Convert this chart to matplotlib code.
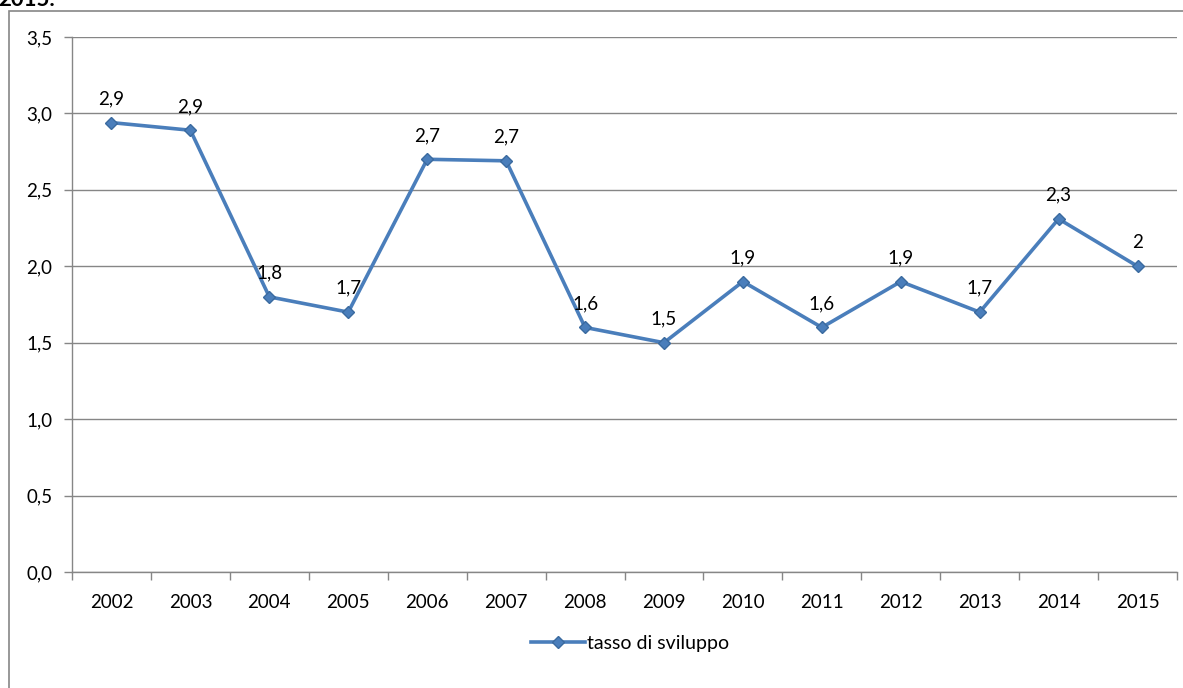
import matplotlib
matplotlib.use("Agg")
import matplotlib.pyplot as plt
from matplotlib.patches import Rectangle
from matplotlib.ticker import FixedLocator, FuncFormatter

years = ["2002", "2003", "2004", "2005", "2006", "2007", "2008",
         "2009", "2010", "2011", "2012", "2013", "2014", "2015"]
tasso = [2.94, 2.89, 1.80, 1.70, 2.70, 2.69, 1.60,
         1.50, 1.90, 1.60, 1.90, 1.70, 2.31, 2.00]
labels = ["2,9", "2,9", "1,8", "1,7", "2,7", "2,7", "1,6",
          "1,5", "1,9", "1,6", "1,9", "1,7", "2,3", "2"]
y_ticks = [0.0, 0.5, 1.0, 1.5, 2.0, 2.5, 3.0, 3.5]

plt.rcParams['font.family'] = ['Lato', 'DejaVu Sans']
blue = '#4A7EBB'
grey = '#868686'
fs = 13.5

W, H = 1183, 688
fig = plt.figure(figsize=(W / 100, H / 100), dpi=100)
ax = fig.add_axes([72 / W, 1 - 572 / H, (1177 - 72) / W, (572 - 37) / H])

x = list(range(len(years)))
ax.plot(x, tasso, color=blue, lw=2.6, marker='D', ms=6,
        markerfacecolor=blue, markeredgecolor='#3A6A9F', label='tasso di sviluppo', zorder=3)
for xi, v, lab in zip(x, tasso, labels):
    ax.annotate(lab, (xi, v), xytext=(0, 11), textcoords='offset points',
                ha='center', va='bottom', fontsize=fs)

ax.set_xlim(-0.5, len(years) - 0.5)
ax.set_ylim(0, 3.5)
ax.set_yticks(y_ticks)
ax.yaxis.set_major_formatter(FuncFormatter(lambda v, p: f"{v:.1f}".replace('.', ',')))
ax.yaxis.grid(True, color=grey, lw=1)
ax.set_axisbelow(True)

ax.set_xticks(x)
ax.set_xticklabels(years)
ax.xaxis.set_minor_locator(FixedLocator([i - 0.5 for i in range(len(years) + 1)]))
ax.tick_params(axis='x', which='major', length=0, pad=16, labelsize=fs)
ax.tick_params(axis='x', which='minor', length=6, color=grey, width=1)
ax.tick_params(axis='y', length=6, color=grey, width=1, pad=8, labelsize=fs)

for s in ['top', 'right']:
    ax.spines[s].set_visible(False)
for s in ['left', 'bottom']:
    ax.spines[s].set_color(grey)
    ax.spines[s].set_linewidth(1)

leg = fig.legend(loc='center', bbox_to_anchor=(630 / W, 1 - 643 / H), frameon=False,
                 fontsize=fs + 0.5, handlelength=2.8, handletextpad=0.1)

# outer chart border (cut off on the right and bottom)
fig.patches.append(Rectangle((9 / W, -0.05), 1.2, 1 - 11 / H + 0.05, transform=fig.transFigure,
                             fill=False, edgecolor=grey, lw=1.2))
# title of the source page, cropped at the top edge like in the original
fig.text(-2 / W, 1 + 1 / H, "2015.", fontsize=16, fontweight='bold', va='center', ha='left')

fig.savefig('out.png', dpi=100)
